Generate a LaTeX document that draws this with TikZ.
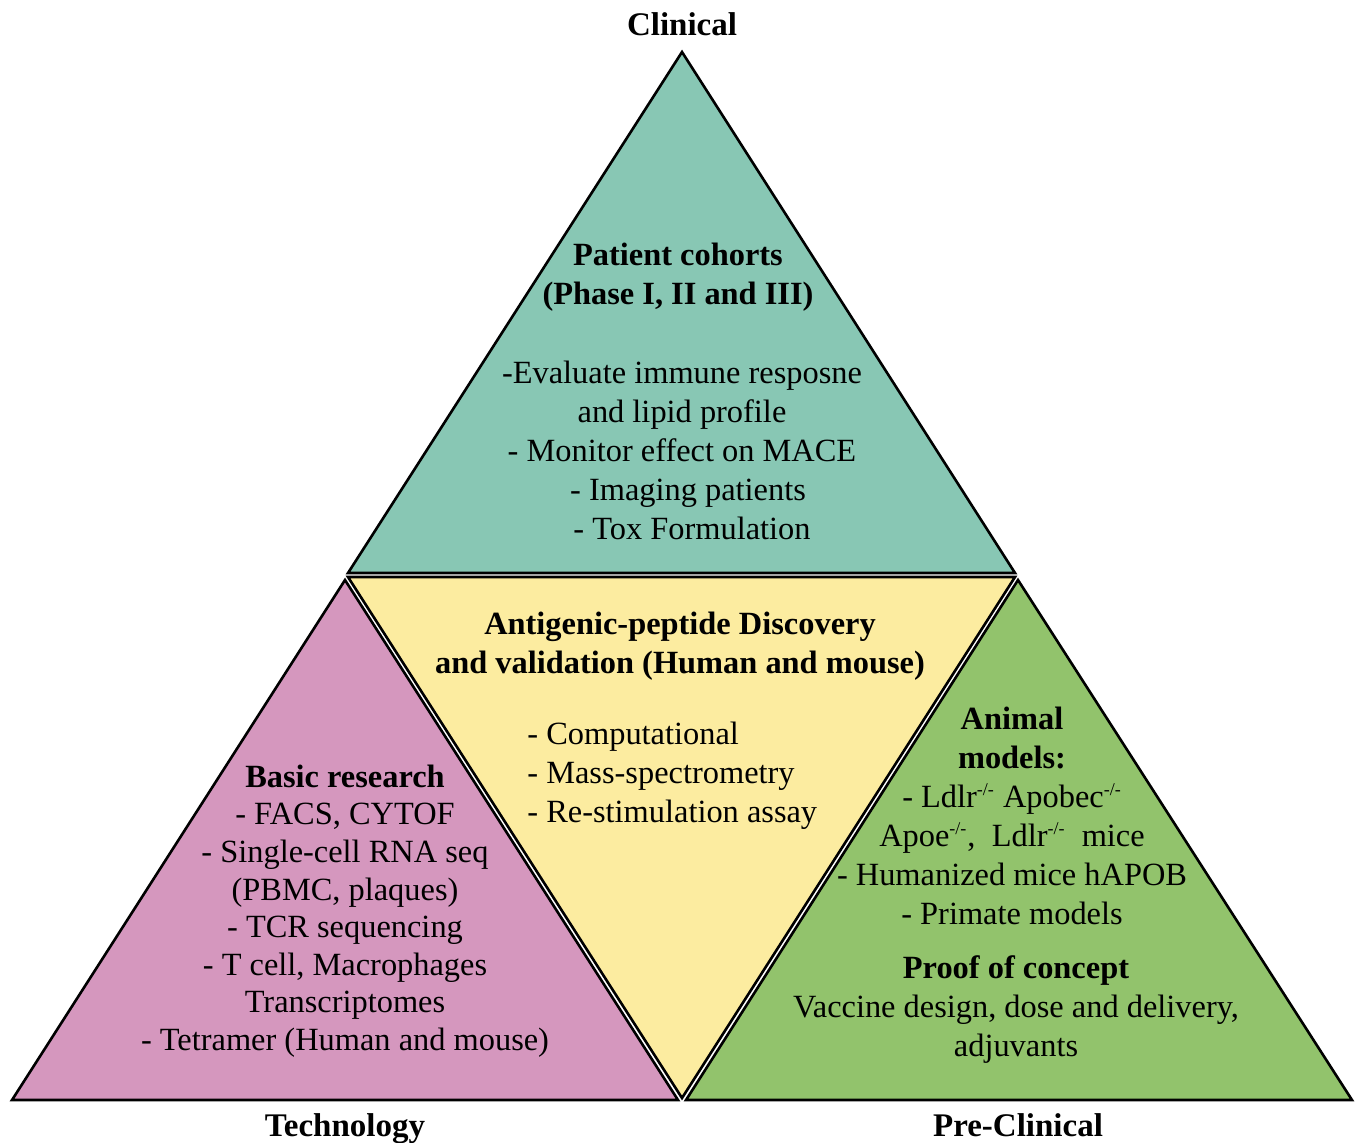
\documentclass[tikz,border=0pt]{standalone}
\usepackage{fontspec}
\setmainfont{Liberation Serif}
\definecolor{clinteal}{RGB}{136,199,180}
\definecolor{discyellow}{RGB}{252,236,160}
\definecolor{techpink}{RGB}{213,151,190}
\definecolor{preclingreen}{RGB}{146,195,108}
\newcommand{\knockout}{\textsuperscript{\fontsize{9}{9}\selectfont-/-}}
\tikzset{
  tri/.style={draw=black, line width=1.3pt},
  txt/.style={inner sep=0pt, align=center, font=\fontsize{16.2}{19.5}\selectfont},
  corner/.style={inner sep=0pt, anchor=base, font=\bfseries\fontsize{16.5}{19.5}\selectfont},
}
\begin{document}
\begin{tikzpicture}[x=0.5pt, y=-0.5pt]
\useasboundingbox (0,0) rectangle (1358,1142);
% the four triangles
\draw[tri, fill=clinteal] (682,52) -- (1015,573) -- (348,573) -- cycle;
\draw[tri, fill=discyellow] (348,577) -- (1015,577) -- (682,1098) -- cycle;
\draw[tri, fill=techpink] (345,580) -- (678,1100) -- (12,1100) -- cycle;
\draw[tri, fill=preclingreen] (1018,580) -- (1352,1100) -- (686,1100) -- cycle;
% corner labels
\node[corner] (clinical) at (682,35) {Clinical};
\node[corner] (technology) at (345,1136) {Technology};
\node[corner] (preclinical) at (1018,1136) {Pre-Clinical};
% clinical
\node[txt, font=\bfseries\fontsize{16.2}{19.5}\selectfont] (cohorts) at (678,277) {Patient cohorts\\(Phase I, II and III)};
\node[txt] (clinlist) at (682,450) {-Evaluate immune resposne\\and lipid profile\\- Monitor effect on MACE\\
  \hspace*{6pt}- Imaging patients\\\hspace*{10pt}- Tox Formulation};
% discovery
\node[txt, font=\bfseries\fontsize{16.2}{19.5}\selectfont] (discovery) at (680,646) {Antigenic-peptide Discovery\\and validation (Human and mouse)};
\node[txt, align=left, anchor=west] (disclist) at (527,776) {- Computational\\- Mass-spectrometry\\- Re-stimulation assay};
% technology
\node[txt, font=\fontsize{16.2}{18.8}\selectfont] (basic) at (345,911) {\textbf{Basic research}\\- FACS, CYTOF\\- Single-cell RNA seq\\
  (PBMC, plaques)\hspace*{22pt}\\- TCR sequencing\\- T cell, Macrophages\\Transcriptomes\\- Tetramer (Human and mouse)};
% pre-clinical
\node[txt] (animal) at (1012,816) {\textbf{Animal}\\\textbf{models:}\\- Ldlr\knockout{} Apobec\knockout\\
  Apoe\knockout,\ \ Ldlr\knockout\ \ mice\\- Humanized mice hAPOB\\- Primate models};
\node[txt] (proof) at (1016,1010) {\textbf{Proof of concept}\\Vaccine design, dose and delivery,\\adjuvants};
\end{tikzpicture}
\end{document}
